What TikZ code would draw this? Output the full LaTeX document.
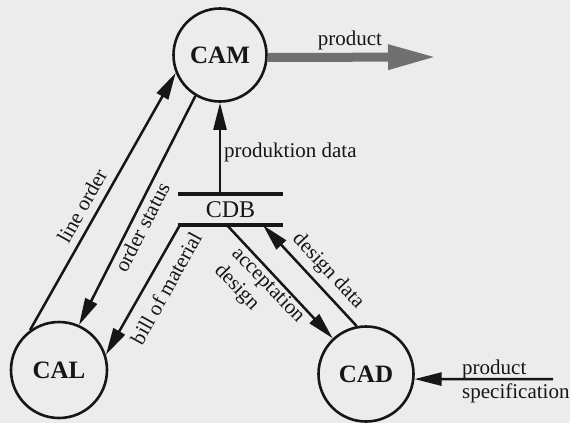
\documentclass[tikz,border=0pt]{standalone}
\usepackage{fontspec}
\setmainfont{Liberation Serif}
\usetikzlibrary{arrows.meta}
\definecolor{paper}{RGB}{236,236,236}
\definecolor{prodgray}{RGB}{112,112,112}
\definecolor{ink}{RGB}{22,22,22}
\begin{document}
\begin{tikzpicture}[x=1pt,y=-1pt,
  proc/.style={circle, draw=ink, text=ink, line width=2.6pt, inner sep=0pt, font=\fontsize{25}{25}\selectfont\bfseries},
  flow/.style={draw=ink, line width=2.5pt, -{Triangle[length=27pt,width=13pt]}},
  lbl/.style={text=ink, font=\fontsize{21}{24}\selectfont, inner sep=0pt},
  bar/.style={draw=ink, line width=3.8pt}
]
\fill[paper] (0,0) rectangle (570,423);
\useasboundingbox (0,0) rectangle (570,423);

\node[proc, minimum size=93pt] (CAM) at (220,55) {CAM};
\node[proc, minimum size=96pt] (CAL) at (59,370) {CAL};
\node[proc, minimum size=95pt] (CAD) at (366,374) {CAD};
\node[inner sep=0pt, minimum width=105pt, minimum height=31pt, text=ink,
      font=\fontsize{24}{24}\selectfont] (CDB) at (230.5,209.5) {CDB\hspace{10pt}};
\draw[bar] (CDB.north west) -- (CDB.north east);
\draw[bar] (CDB.south west) -- (CDB.south east);

% connectors
\draw[flow] (CAL.126) -- (CAM.202);
\draw[flow] (CAM.239) -- (CAL.66);
\draw[flow] (CAM.south |- CDB.north) -- (CAM.south);
\draw[flow] ([xshift=2pt]CDB.south west) -- (CAL.18);
\draw[flow] ([xshift=-3.5pt]CDB.south) -- (CAD.133);
\draw[flow] (CAD.101) -- ([xshift=32.5pt]CDB.south);
\coordinate (specStart) at (553,379);
\draw[flow] (specStart) -- (CAD.-6);
\coordinate (prodEnd) at (437,57);
\draw[prodgray, line width=9pt, -{Triangle[length=49pt,width=23pt]}] (CAM.-3) -- (prodEnd);

% labels
\node[lbl] (lProduct) at (350,40) {product};
\node[lbl, anchor=west] (lProd) at (224,152) {produktion data};
\node[lbl, rotate=61] (lLine) at (82,206) {line order};
\node[lbl, rotate=63] (lStatus) at (142,227) {order status};
\node[lbl, rotate=61] (lBill) at (166,288) {bill of material};
\node[lbl, rotate=-46, align=left] (lAcc) at (259,294) {acceptation\\design};
\node[lbl, rotate=-47] (lDesign) at (328,271) {design data};
\node[lbl, anchor=base west] (lSpec1) at (462,374) {product};
\node[lbl, anchor=base west] (lSpec2) at (462,398) {specification};
\end{tikzpicture}
\end{document}
